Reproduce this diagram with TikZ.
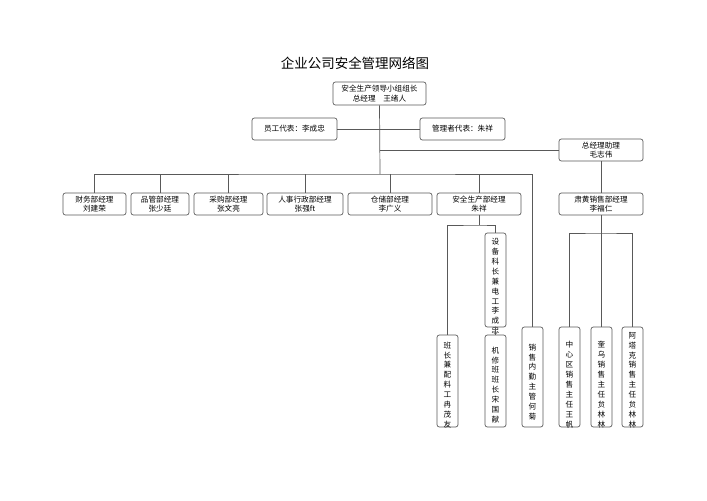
\documentclass[tikz,border=0pt]{standalone}
\usepackage{fontspec}
\setmainfont{Noto Sans CJK SC}
\usetikzlibrary{positioning}
\usetikzlibrary{calc}

\begin{document}
\begin{tikzpicture}[x=0.03cm,y=-0.03cm,semithick]
	\tikzstyle{box}=[draw=black!65,rounded corners=2pt,align=center,inner sep=0pt,
		minimum height=0.66cm,font=\fontsize{6.5}{8}\selectfont]
	\tikzstyle{vbox}=[draw=black!65,rounded corners=2pt,minimum width=0.63cm,inner sep=0pt]
	\tikzstyle{vtext}=[align=center,inner sep=0pt,font=\fontsize{6.5}{8.5}\selectfont]
	\tikzstyle{link}=[draw=black!65]
	\useasboundingbox (0,0) rectangle (707,500);

	\node[font=\fontsize{11.5}{14}\selectfont] (title) at (355,63) {企业公司安全管理网络图};

	\node[box,minimum width=2.79cm,minimum height=0.69cm] (M_0) at (379.5,93.5)
		{安全生产领导小组组长\\总经理\hspace{1em}王绪人};
	\node[box,minimum width=2.55cm] (R_1) at (294.5,129) {员工代表：李成忠};
	\node[box,minimum width=2.55cm] (R_2) at (462.5,129) {管理者代表：朱祥};
	\node[box,minimum width=2.52cm] (A_1) at (601,150) {总经理助理\\毛志伟};
	\node[box,minimum width=2.52cm] (A_2) at (601,204) {肃黄销售部经理\\李福仁};

	\node[box,minimum width=1.89cm] (D_1) at (94.5,204)  {财务部经理\\刘建荣};
	\node[box,minimum width=1.74cm] (D_2) at (160,204)   {品管部经理\\张少廷};
	\node[box,minimum width=2.07cm] (D_3) at (228.5,204) {采购部经理\\张文亮};
	\node[box,minimum width=2.28cm] (D_4) at (305,204)   {人事行政部经理\\张强ft};
	\node[box,minimum width=2.52cm] (D_5) at (390,204)   {仓储部经理\\李广义};
	\node[box,minimum width=2.52cm] (D_6) at (479,204)   {安全生产部经理\\朱祥};

	\node[vbox,minimum height=2.76cm] (V_1) at (447.5,381) {};
	\node[vbox,minimum height=2.82cm] (V_2) at (495.5,280) {};
	\node[vbox,minimum height=2.76cm] (V_3) at (495.5,381) {};
	\node[vbox,minimum height=3cm]    (V_4) at (532.5,377) {};
	\node[vbox,minimum height=3cm]    (V_5) at (569.5,377) {};
	\node[vbox,minimum height=3cm]    (V_6) at (601.5,377) {};
	\node[vbox,minimum height=3cm]    (V_7) at (632.5,377) {};

	\node[vtext,below=0.2cm of V_1.north]  (T_1) {班\\长\\兼\\配\\料\\工\\冉\\茂\\友};
	\node[vtext,below=0.15cm of V_2.north] (T_2) {设\\备\\科\\长\\兼\\电\\工\\李\\成\\忠};
	\node[vtext,below=0.35cm of V_3.north] (T_3) {机\\修\\班\\班\\长\\宋\\国\\献};
	\node[vtext,below=0.5cm of V_4.north]  (T_4) {销\\售\\内\\勤\\主\\管\\何\\菊};
	\node[vtext,below=0.43cm of V_5.north] (T_5) {中\\心\\区\\销\\售\\主\\任\\王\\帆};
	\node[vtext,below=0.43cm of V_6.north] (T_6) {奎\\乌\\销\\售\\主\\任\\贠\\林\\林};
	\node[vtext,below=0.15cm of V_7.north] (T_7) {阿\\塔\\克\\销\\售\\主\\任\\贠\\林\\林};

	\coordinate (bus) at (380,174);
	\coordinate (sj) at (479,225);
	\coordinate (xj) at (601,233);

	\draw[link] (M_0.south) -- (bus);
	\draw[link] (R_1.east) -- (R_1.east -| M_0.south);
	\draw[link] (R_2.west) -- (R_2.west -| M_0.south);
	\draw[link] (A_1.west) -- (A_1.west -| M_0.south);
	\draw[link] (A_1) -- (A_2);
	\draw[link] (D_1.north) |- (bus) -| (V_4.north);
	\foreach \d in {D_2,D_3,D_4,D_5,D_6}
		\draw[link] (\d.north) -- (\d.north |- bus);
	\draw[link] (D_6.south) -- (sj);
	\draw[link] (V_1.north) |- (sj) -| (V_2.north);
	\draw[link] (V_2) -- (V_3);
	\draw[link] (A_2.south) -- (xj);
	\draw[link] (V_5.north) |- (xj) -| (V_7.north);
	\draw[link] (V_6.north) -- (V_6.north |- xj);
\end{tikzpicture}
\end{document}
